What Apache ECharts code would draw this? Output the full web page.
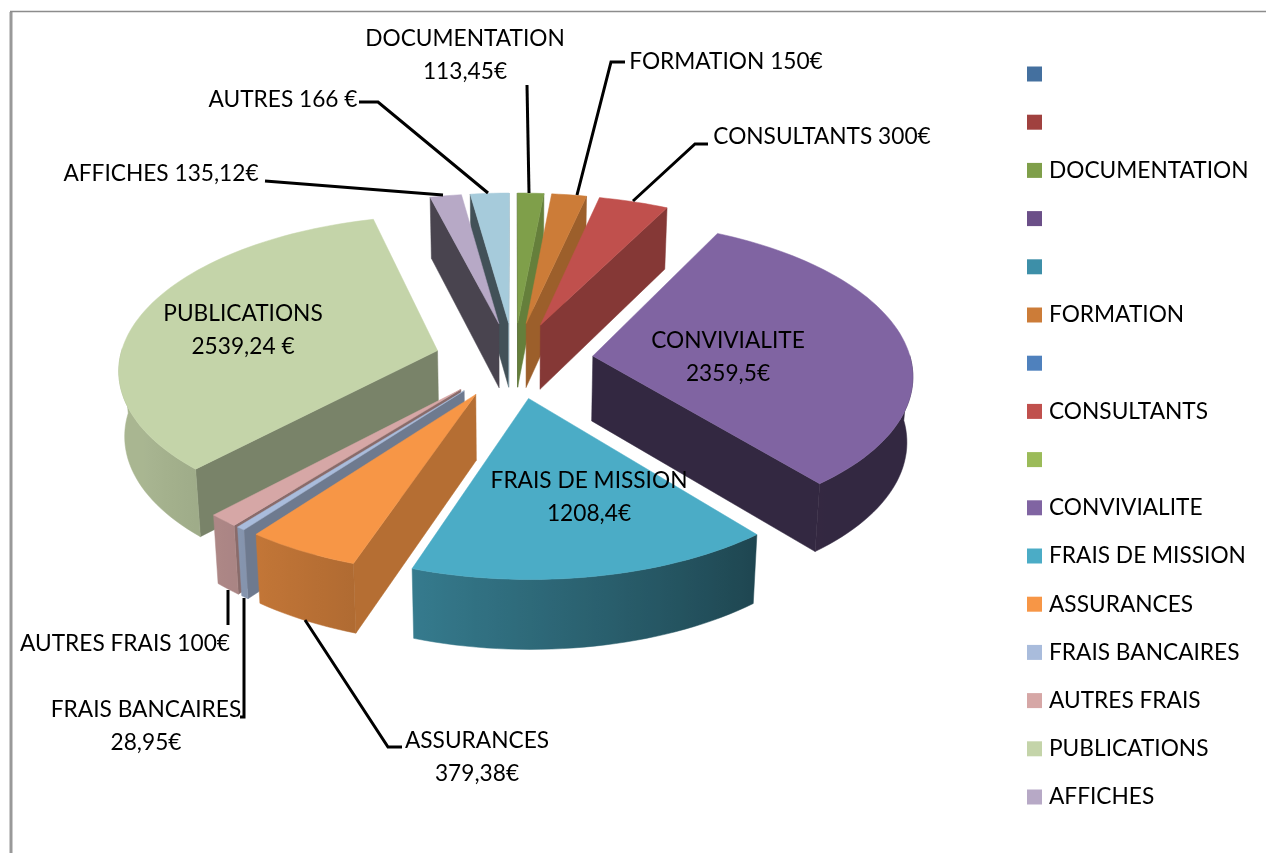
<!DOCTYPE html>
<html>
<head>
<meta charset="utf-8">
<style>
  html, body { margin: 0; background: #fff; }
  #chart0 { width: 1266px; height: 853px; }
</style>
<script src="https://cdn.jsdelivr.net/npm/echarts@6/dist/echarts.min.js"></script>
</head>
<body>
<div id="chart0"></div>
<script>
// blank legend entries are distinct strings of spaces, legend needs unique names
var categories = [' ', '  ', 'DOCUMENTATION', '   ', '    ', 'FORMATION', '     ', 'CONSULTANTS', '      ',
  'CONVIVIALITE', 'FRAIS DE MISSION', 'ASSURANCES', 'FRAIS BANCAIRES', 'AUTRES FRAIS', 'PUBLICATIONS', 'AFFICHES', 'AUTRES']
var values = [0, 0, 113.45, 0, 0, 150, 0, 300, 0, 2359.5, 1208.4, 379.38, 28.95, 100, 2539.24, 135.12, 166]
var colors = ['#44709f', '#a0413f', '#7f9f4a', '#6b4f88', '#3d8fa8', '#cc7c38', '#4f81bd', '#c0504d', '#9bbb59',
  '#8064a2', '#4bacc6', '#f79646', '#a9bcdc', '#d6a7a6', '#c4d4a9', '#b7a9c6', '#a6cbdb']
var sliceLabels = ['DOCUMENTATION\n113,45€', 'FORMATION 150€', 'CONSULTANTS 300€', 'CONVIVIALITE\n2359,5€',
  'FRAIS DE MISSION\n1208,4€', 'ASSURANCES\n379,38€', 'FRAIS BANCAIRES\n28,95€', 'AUTRES FRAIS 100€',
  'PUBLICATIONS\n2539,24 €', 'AFFICHES 135,12€', 'AUTRES 166 €']

// label centres and leader lines, same order as sliceLabels
var labelPos = [[465, 55], [726, 62], [822, 137], [728, 357], [589, 497], [477, 757], [146, 726], [125, 644], [243, 330], [161, 174], [283, 100]]
var leaders = [
  [[527, 85], [529, 193]],
  [[625, 62], [611, 62], [577, 195]],
  [[708, 144], [695, 144], [633, 201]],
  null,
  null,
  [[305, 620], [388, 747], [402, 747]],
  [[244, 598], [244, 717], [240, 717]],
  [[228, 590], [228, 625]],
  null,
  [[265, 181], [443, 195]],
  [[359, 102], [378, 102], [488, 193]]
]

var FONT = 'Lato'
var cx = 514, cy = 360, R0 = 318, K = 152, persp = 0.11, H = 65, explode = 0.25

var total = values.reduce(function (a, b) { return a + b }, 0)

function project(X, Y, z) {
  var w = 1 / (1 + persp * Y)
  return [cx + R0 * X * w * (1 - z * 0.015), cy - K * Y * w + z * H * Math.sqrt(w)]
}

function shade(hex, f) {
  var n = parseInt(hex.slice(1), 16)
  var c = [n >> 16, (n >> 8) & 255, n & 255].map(function (v) { return Math.round(v * f) })
  return 'rgb(' + c.join(',') + ')'
}

// darkening of the rim
var rimStops = [[0, 0.4], [140, 0.4], [200, 0.72], [220, 0.8], [240, 0.86], [360, 0.86]]
function rimShade(deg) {
  for (var i = 1; i < rimStops.length; i++) {
    if (deg <= rimStops[i][0]) {
      var a = rimStops[i - 1], b = rimStops[i]
      return a[1] + (b[1] - a[1]) * (deg - a[0]) / (b[0] - a[0])
    }
  }
  return 0.86
}

function radialShade(normalDeg) {
  if (normalDeg > 180) return 0.4
  return 0.8 - 0.18 * Math.max(0, normalDeg - 95) / 38
}

function renderSlice(index, api) {
  var value = api.value(0)
  if (!value) return null
  var before = 0
  for (var i = 0; i < index; i++) before += values[i]
  var a0 = before / total * 2 * Math.PI
  var a1 = (before + value) / total * 2 * Math.PI
  var mid = (a0 + a1) / 2
  var ox = explode * Math.sin(mid), oy = explode * Math.cos(mid)
  var color = colors[index]

  function rim(a, z) { return project(ox + Math.sin(a), oy + Math.cos(a), z) }
  var apexTop = project(ox, oy, 0), apexBottom = project(ox, oy, 1)

  var steps = Math.max(4, Math.ceil((a1 - a0) / 0.03))
  var arc = []
  for (var s = 0; s <= steps; s++) arc.push(a0 + (a1 - a0) * s / steps)

  var children = []
  var midRim = rim(mid, 0)

  function wallVisible(a) {
    var p = rim(a, 0)
    var ex = p[0] - apexTop[0], ey = p[1] - apexTop[1]
    var mx = midRim[0] - apexTop[0], my = midRim[1] - apexTop[1]
    var t = (mx * ex + my * ey) / (ex * ex + ey * ey)
    return my - ey * t < 0
  }
  function addWall(a, normal) {
    if (!wallVisible(a)) return
    var f = radialShade((normal + 720) % 360)
    children.push({
      type: 'polygon',
      shape: { points: [apexTop, rim(a, 0), rim(a, 1), apexBottom] },
      style: { fill: shade(color, f), stroke: shade(color, f), lineWidth: 0.5 }
    })
  }
  var d0 = a0 * 180 / Math.PI, d1 = a1 * 180 / Math.PI
  addWall(a0, d0 - 90)
  addWall(a1, d1 + 90)

  // only the part of the rim that faces the viewer
  var front = arc.filter(function (a) { return Math.cos(a) <= 0.02 })
  if (front.length > 1) {
    var topEdge = front.map(function (a) { return rim(a, 0) })
    var bottomEdge = front.map(function (a) { return rim(a, 1) }).reverse()
    var xs = topEdge.map(function (p) { return p[0] })
    var xMin = Math.min.apply(null, xs), xMax = Math.max.apply(null, xs)
    var stops = front.map(function (a, n) {
      return { offset: (xs[n] - xMin) / (xMax - xMin), color: shade(color, rimShade(a * 180 / Math.PI)) }
    }).sort(function (p, q) { return p.offset - q.offset })
    var rimFill = new echarts.graphic.LinearGradient(xMin, 0, xMax, 0, stops, true)
    children.push({
      type: 'polygon',
      shape: { points: topEdge.concat(bottomEdge) },
      style: { fill: rimFill, stroke: rimFill, lineWidth: 0.5 }
    })
  }

  children.push({
    type: 'polygon',
    shape: { points: [apexTop].concat(arc.map(function (a) { return rim(a, 0) })) },
    style: { fill: color, stroke: color, lineWidth: 0.5 }
  })
  return { type: 'group', children: children }
}

// slices further back are painted first
function paintOrder(index) {
  var before = 0
  for (var i = 0; i < index; i++) before += values[i]
  var mid = (before + values[index] / 2) / total * 2 * Math.PI
  return 10 + (1 - Math.cos(mid)) * 10
}

var series = categories.map(function (name, index) {
  return {
    name: name,
    type: 'custom',
    coordinateSystem: 'none',
    silent: true,
    z: paintOrder(index),
    itemStyle: { color: colors[index] },
    data: [[values[index]]],
    renderItem: function (params, api) { return renderSlice(index, api) }
  }
})

var graphics = [
  { type: 'line', z: 1, shape: { x1: 11, y1: 12, x2: 11, y2: 853 }, style: { stroke: '#999', lineWidth: 3 } },
  { type: 'line', z: 1, shape: { x1: 10, y1: 11.5, x2: 1266, y2: 11.5 }, style: { stroke: '#8c8c8c', lineWidth: 1.5 } }
]
sliceLabels.forEach(function (text, i) {
  if (leaders[i]) {
    graphics.push({
      type: 'polyline',
      z: 50,
      shape: { points: leaders[i] },
      style: { stroke: '#000', lineWidth: 3, fill: null }
    })
  }
  graphics.push({
    type: 'text',
    z: 60,
    x: labelPos[i][0],
    y: labelPos[i][1],
    style: {
      text: text,
      fill: '#000',
      font: '22.7px ' + FONT,
      lineHeight: 33,
      align: 'center',
      verticalAlign: 'middle'
    }
  })
})

var chart0 = echarts.init(document.getElementById('chart0'))
chart0.setOption({
  animation: false,
  backgroundColor: '#fff',
  legend: {
    orient: 'vertical',
    left: 1027,
    top: 60,
    padding: 0,
    itemWidth: 15,
    itemHeight: 15,
    itemGap: 20.2,
    icon: 'rect',
    selectedMode: false,
    textStyle: { color: '#000', fontFamily: FONT, fontSize: 22.7, lineHeight: 28, padding: [0, 0, 0, 2] },
    data: categories.slice(0, 16)
  },
  graphic: graphics,
  series: series
})
</script>
</body>
</html>
